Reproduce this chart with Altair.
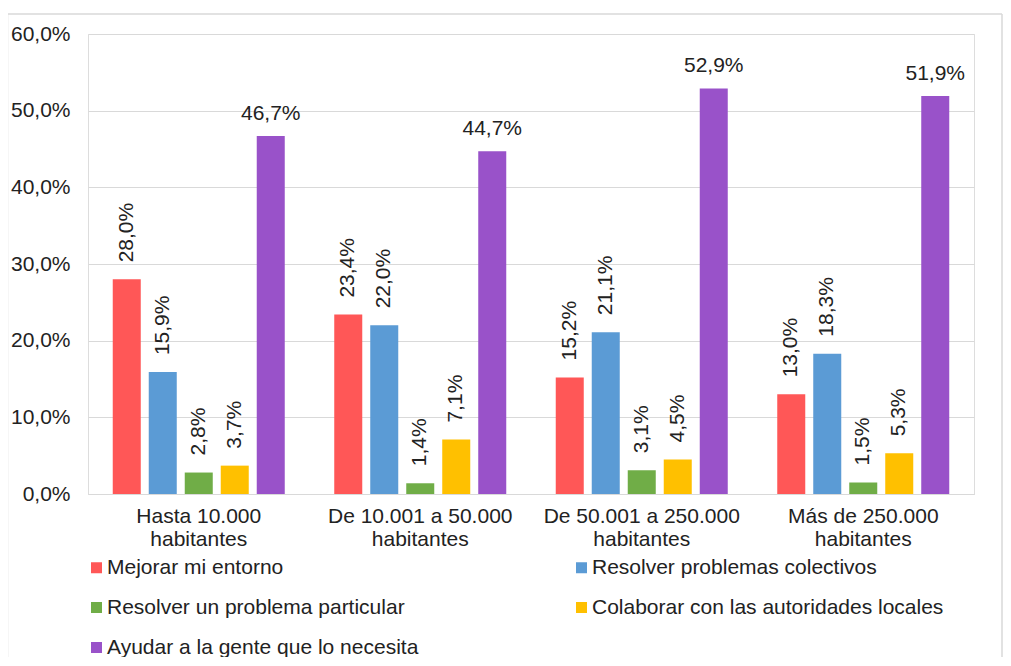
import altair as alt
import pandas as pd

groups = ["Hasta 10.000 habitantes", "De 10.001 a 50.000 habitantes",
          "De 50.001 a 250.000 habitantes", "Más de 250.000 habitantes"]
series = ["Mejorar mi entorno", "Resolver problemas colectivos",
          "Resolver un problema particular", "Colaborar con las autoridades locales",
          "Ayudar a la gente que lo necesita"]
colors = ["#FF5757", "#5B9BD5", "#70AD47", "#FFC000", "#9952C9"]

mejorar = [28.0, 23.4, 15.2, 13.0]
colectivos = [15.9, 22.0, 21.1, 18.3]
particular = [2.8, 1.4, 3.1, 1.5]
colaborar = [3.7, 7.1, 4.5, 5.3]
ayudar = [46.7, 44.7, 52.9, 51.9]

rows = []
for s, vals in zip(series, [mejorar, colectivos, particular, colaborar, ayudar]):
    for g, v in zip(groups, vals):
        rows.append({"grupo": g, "serie": s, "valor": v})
df = pd.DataFrame(rows)

TXT = "#222222"
GRID = "#d9d9d9"
FS = 21

x_enc = alt.X("grupo:N", sort=groups,
              scale=alt.Scale(paddingInner=0, paddingOuter=0),
              axis=alt.Axis(title=None, labelAngle=0, ticks=False, domainColor=GRID,
                            labelFontSize=FS, labelPadding=11, labelLineHeight=23,
                            labelColor=TXT, labelLimit=400,
                            labelExpr="[replace(datum.label, ' habitantes', ''), 'habitantes']"))
xo_enc = alt.XOffset("serie:N", sort=series,
                     scale=alt.Scale(paddingInner=0.222, paddingOuter=0.6875))
y_enc = alt.Y("valor:Q", scale=alt.Scale(domain=[0, 60], nice=False),
              axis=alt.Axis(title=None, values=[0, 10, 20, 30, 40, 50, 60],
                            domain=False, ticks=False, gridColor=GRID,
                            labelFontSize=FS, labelPadding=18, labelColor=TXT,
                            labelExpr="replace(format(datum.value, '.1f'), '.', ',') + '%'"))

base = alt.Chart(df).transform_calculate(
    lab="replace(format(datum.valor, '.1f'), '.', ',') + '%'"
).encode(x=x_enc, xOffset=xo_enc, y=y_enc)

bars = base.mark_bar().encode(
    color=alt.Color("serie:N", sort=series,
                    scale=alt.Scale(domain=series, range=colors),
                    legend=alt.Legend(title=None, orient="none", legendX=-2, legendY=523,
                                      direction="horizontal",
                                      columns=2, columnPadding=152, rowPadding=18,
                                      symbolType="square", symbolSize=121,
                                      symbolStrokeWidth=0, labelFontSize=FS,
                                      labelColor=TXT, labelOffset=0, padding=0,
                                      labelLimit=500))
)

rot = base.transform_filter(
    alt.datum.serie != series[4]
).mark_text(angle=270, align="left", baseline="middle", dx=17,
            fontSize=FS, color=TXT).encode(text="lab:N")

hor = base.transform_filter(
    alt.datum.serie == series[4]
).mark_text(align="center", baseline="alphabetic", dy=-16,
            fontSize=FS, color=TXT).encode(text="lab:N")

one = pd.DataFrame({"k": [0]})
frame_left = alt.Chart(one).mark_rule(color=GRID, strokeWidth=1.5).encode(
    x=alt.value(-80.5), y=alt.value(-20), y2=alt.value(640))
frame_right = alt.Chart(one).mark_rule(color=GRID, strokeWidth=1.5).encode(
    x=alt.value(914), y=alt.value(-20), y2=alt.value(640))
frame_top = alt.Chart(one).mark_rule(color=GRID, strokeWidth=1.5).encode(
    x=alt.value(-80.5), x2=alt.value(914), y=alt.value(-20))

chart = alt.layer(frame_left, frame_right, frame_top, bars, rot, hor).properties(
    width=886, height=460,
    autosize=alt.AutoSizeParams(type="none"),
    padding={"left": 80, "top": 26, "right": 29, "bottom": 163}
).configure_view(strokeWidth=0).configure(font="Liberation Sans")

chart.save("out.html", embed_options={"renderer": "svg", "actions": False})
